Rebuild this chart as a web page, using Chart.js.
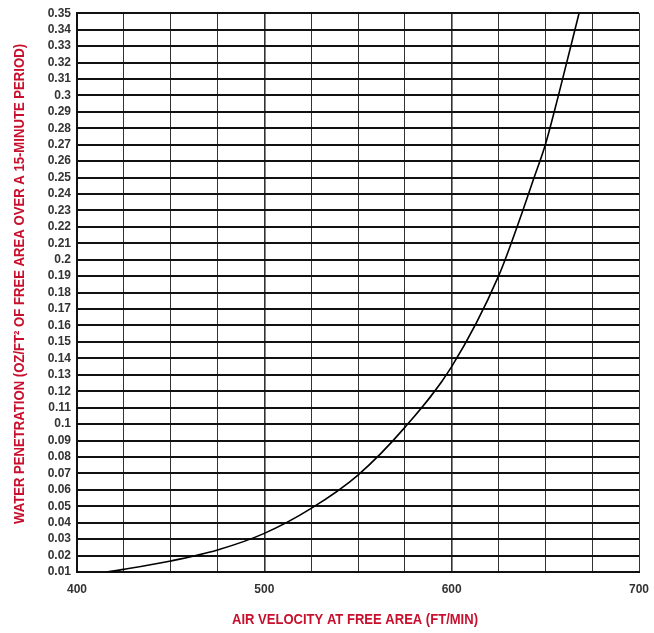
<!DOCTYPE html>
<html lang="en">
<head>
    <meta charset="UTF-8">
    <title>Water Penetration vs Air Velocity</title>
    <script src="https://cdn.jsdelivr.net/npm/chart.js@4.4.0/dist/chart.umd.min.js"></script>
    <style>
        html, body { margin: 0; padding: 0; background: #fff; }
        .chart-box { width: 654px; height: 633px; position: relative; }
    </style>
</head>
<body>
    <div class="chart-box">
        <canvas id="penChart"></canvas>
    </div>

    <script>
        // values
        const velocity = [416, 425, 450, 475, 500, 525, 550, 575, 600, 625, 638, 644, 650, 657, 668];
        const penetration = [0.010, 0.0116, 0.0167, 0.0234, 0.0335, 0.0487, 0.069, 0.098, 0.135, 0.19, 0.23, 0.25, 0.27, 0.30, 0.35];

        const xTitle = 'AIR VELOCITY AT FREE AREA (FT/MIN)';
        const yTitle = 'WATER PENETRATION (OZ/FT\u00B2 OF FREE AREA OVER A 15-MINUTE PERIOD)';
        const titleRed = '#c8102e';

        // axis titles are drawn condensed, like the original artwork
        const condensedTitles = {
            id: 'condensedTitles',
            afterDraw(chart) {
                const ctx = chart.ctx;
                ctx.save();
                ctx.fillStyle = titleRed;
                ctx.font = 'bold 15px "Liberation Sans Narrow", "Liberation Sans", Arial';
                ctx.textAlign = 'center';
                ctx.textBaseline = 'middle';

                // x title
                let w = ctx.measureText(xTitle).width;
                ctx.save();
                ctx.translate(355, 620);
                ctx.scale(246 / w, 1);
                ctx.fillText(xTitle, 0, 0);
                ctx.restore();

                // y title
                w = ctx.measureText(yTitle).width;
                ctx.save();
                ctx.translate(20, 284);
                ctx.rotate(-Math.PI / 2);
                ctx.scale(480 / w, 1);
                ctx.fillText(yTitle, 0, 0);
                ctx.restore();

                ctx.restore();
            }
        };

        const ctx = document.getElementById('penChart').getContext('2d');
        new Chart(ctx, {
            type: 'scatter',
            data: {
                datasets: [{
                    data: velocity.map((v, i) => ({ x: v, y: penetration[i] })),
                    showLine: true,
                    borderColor: '#000',
                    borderWidth: 1.6,
                    pointRadius: 0,
                    cubicInterpolationMode: 'monotone',
                    fill: false
                }]
            },
            options: {
                responsive: true,
                maintainAspectRatio: false,
                animation: false,
                layout: { padding: { top: 12, right: 15, left: 0, bottom: 0 } },
                plugins: {
                    legend: { display: false },
                    tooltip: { enabled: false }
                },
                scales: {
                    x: {
                        type: 'linear',
                        min: 400,
                        max: 700,
                        afterFit(scale) {
                            scale.height = 61;
                            scale.paddingLeft = 0;
                            scale.paddingRight = 0;
                        },
                        ticks: {
                            stepSize: 25,
                            padding: 10,
                            autoSkip: false,
                            maxRotation: 0,
                            color: '#333',
                            font: { family: 'Liberation Sans, Arial', size: 12, weight: 'bold' },
                            callback: v => (v % 100 === 0 ? v : '')
                        },
                        grid: {
                            drawTicks: false,
                            color: '#333',
                            lineWidth: c => (c.tick && (c.tick.value === 500 || c.tick.value === 600) ? 1.6 : 1)
                        },
                        border: { color: '#111', width: 2 }
                    },
                    y: {
                        min: 0.01,
                        max: 0.35,
                        afterFit(scale) { scale.width = 77; },
                        ticks: {
                            stepSize: 0.01,
                            padding: 6,
                            autoSkip: false,
                            color: '#333',
                            font: { family: 'Liberation Sans, Arial', size: 12, weight: 'bold' },
                            callback: v => parseFloat(v.toFixed(2)).toString()
                        },
                        grid: {
                            drawTicks: false,
                            color: '#111',
                            lineWidth: 2
                        },
                        border: { color: '#111', width: 2 }
                    }
                }
            },
            plugins: [condensedTitles]
        });
    </script>
</body>
</html>
